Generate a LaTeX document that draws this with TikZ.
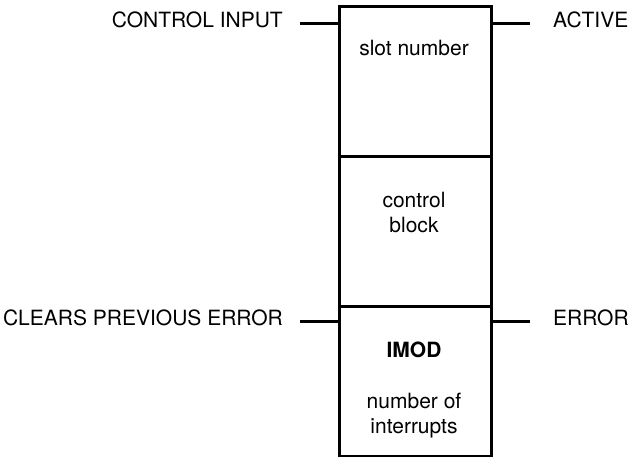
\documentclass[tikz,border=0pt]{standalone}
\usepackage{fontspec}
\setmainfont{TeX Gyre Heros}
\begin{document}
\begin{tikzpicture}[x=1pt,y=-1pt,
  every node/.style={font=\fontsize{21}{25}\selectfont, inner sep=0pt},
  section/.style={draw, line width=3pt, minimum width=152pt, minimum height=150pt, anchor=north west},
  sig/.style={line width=3pt},
  inner/.style={anchor=base}]
  \useasboundingbox (0,0) rectangle (631,457);
  % stacked block sections
  \node[section] (top) at (338,5) {};
  \node[section] (mid) at (338,155) {};
  \node[section] (bot) at (338,305) {};
  % texts inside the block
  \node[inner] (slot) at (414,56) {slot number};
  \node[inner] (ctl) at (414,207) {control};
  \node[inner] (blk) at (414,232) {block};
  \node[inner] (imod) at (414,357) {\bfseries IMOD};
  \node[inner] (num) at (414,408) {number of};
  \node[inner] (intr) at (414,433) {interrupts};
  % signal labels
  \node[anchor=base east] (cin) at (283,28) {CONTROL INPUT};
  \node[anchor=base east] (clr) at (283,325) {CLEARS PREVIOUS ERROR};
  \node[anchor=base west] (act) at (553,28) {ACTIVE};
  \node[anchor=base west] (err) at (553,325) {ERROR};
  % line ends next to the labels
  \coordinate (cinL) at (300,24);
  \coordinate (clrL) at (300,321);
  \coordinate (actR) at (530,24);
  \coordinate (errR) at (530,321);
  % signal lines
  \draw[sig] (cinL) -- (cinL -| top.west);
  \draw[sig] (clrL) -- (clrL -| bot.west);
  \draw[sig] (actR -| top.east) -- (actR);
  \draw[sig] (errR -| bot.east) -- (errR);
\end{tikzpicture}
\end{document}
